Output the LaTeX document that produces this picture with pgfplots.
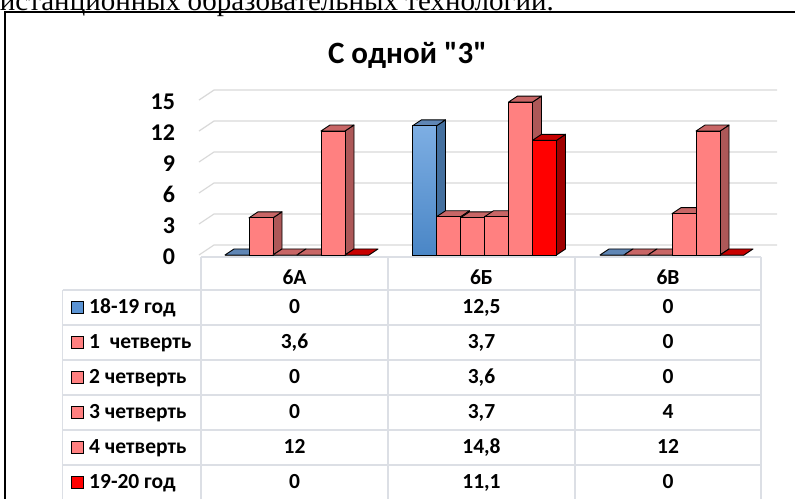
\documentclass[border=0pt]{standalone}
\usepackage{fontspec}
\setmainfont{Carlito}[Ligatures=TeXOff]
\newfontfamily\serifcut{Liberation Serif}
\usepackage{pgfplots}
\pgfplotsset{compat=1.18}
\definecolor{gridc}{HTML}{D9D9D9}
\definecolor{tabc}{HTML}{DCDFE5}
\definecolor{bfrontT}{HTML}{7DAEE3}
\definecolor{bfrontB}{HTML}{4A86C6}
\definecolor{bkey}{HTML}{5B93D3}
\definecolor{btop}{HTML}{5F86B5}
\definecolor{bside}{HTML}{44709F}
\definecolor{pfront}{HTML}{FF8080}
\definecolor{ptop}{HTML}{C86666}
\definecolor{pside}{HTML}{AD5858}
\definecolor{rfront}{HTML}{FF0000}
\definecolor{rtop}{HTML}{C80000}
\definecolor{rside}{HTML}{A00000}
% 3D top and side faces of a bar: category, series index, value, side colour, top colour
\newcommand\threed[5]{%
  \pgfmathsetmacro\xa{#1+(#2-3)*0.128}%
  \pgfmathsetmacro\xb{\xa+0.128}%
  \pgfmathsetmacro\xc{\xb+0.048}%
  \pgfmathsetmacro\xd{\xa+0.048}%
  \pgfmathsetmacro\yt{#3+0.581}%
  \ifdim #3pt>0pt
    \edef\tmp{\noexpand\addplot[forget plot,fill=#4,draw=black,line width=0.9pt,line join=round] coordinates {(\xb,0) (\xc,0.581) (\xc,\yt) (\xb,#3)} -- cycle;}\tmp
  \fi
  \edef\tmp{\noexpand\addplot[forget plot,fill=#5,draw=black,line width=0.9pt,line join=round] coordinates {(\xa,#3) (\xb,#3) (\xc,\yt) (\xd,\yt)} -- cycle;}\tmp
}
\begin{document}
\begin{tikzpicture}[x=1pt,y=1pt]
\useasboundingbox (0,0) rectangle (795,498);
\clip (0,0) rectangle (795,498);
\node[anchor=base west, inner sep=0pt, font=\serifcut\fontsize{29}{29}\selectfont] at (-15,487.5) {дистанционных образовательных технологий.};
\draw[line width=2pt] (5,-5) -- (5,486) -- (800,486);
\node[anchor=base, inner sep=0pt, font=\fontsize{31}{31}\selectfont\bfseries] at (407.5,434.7) {С одной "3"};
\begin{axis}[at={(203.25pt,243pt)}, anchor=south west,
  x=187.5pt, y=10.33pt, xmin=-0.5, xmax=2.5, ymin=0, ymax=15,
  enlargelimits=false, clip=false, axis line style={draw=none},
  major tick length=0pt, xtick=\empty, ytick={0,3,6,9,12,15},
  /pgf/number format/assume math mode=true,
  yticklabel style={font=\fontsize{24}{24}\selectfont\bfseries, inner sep=0pt, anchor=east, xshift=-28pt, yshift=-1.5pt}]
\draw[gridc, line width=1.2pt] (axis cs:-0.5227,0) -- (axis cs:-0.4427,0.968) -- (axis cs:2.56,0.968);
\draw[gridc, line width=1.2pt] (axis cs:-0.5227,3) -- (axis cs:-0.4427,3.968) -- (axis cs:2.56,3.968);
\draw[gridc, line width=1.2pt] (axis cs:-0.5227,6) -- (axis cs:-0.4427,6.968) -- (axis cs:2.56,6.968);
\draw[gridc, line width=1.2pt] (axis cs:-0.5227,9) -- (axis cs:-0.4427,9.968) -- (axis cs:2.56,9.968);
\draw[gridc, line width=1.2pt] (axis cs:-0.5227,12) -- (axis cs:-0.4427,12.968) -- (axis cs:2.56,12.968);
\draw[gridc, line width=1.2pt] (axis cs:-0.5227,15) -- (axis cs:-0.4427,15.968) -- (axis cs:2.56,15.968);
% 18-19 год
\threed{0}{0}{0}{bside}{btop}\threed{1}{0}{12.5}{bside}{btop}\threed{2}{0}{0}{bside}{btop}
\addplot[forget plot, ybar, bar width=24pt, bar shift=-60pt, draw=black, line width=0.9pt, top color=bfrontT, bottom color=bfrontB] coordinates {(0,0) (1,12.5) (2,0)};
% 1 четверть
\threed{0}{1}{3.6}{pside}{ptop}\threed{1}{1}{3.7}{pside}{ptop}\threed{2}{1}{0}{pside}{ptop}
\addplot[forget plot, ybar, bar width=24pt, bar shift=-36pt, draw=black, line width=0.9pt, fill=pfront] coordinates {(0,3.6) (1,3.7) (2,0)};
% 2 четверть
\threed{0}{2}{0}{pside}{ptop}\threed{1}{2}{3.6}{pside}{ptop}\threed{2}{2}{0}{pside}{ptop}
\addplot[forget plot, ybar, bar width=24pt, bar shift=-12pt, draw=black, line width=0.9pt, fill=pfront] coordinates {(0,0) (1,3.6) (2,0)};
% 3 четверть
\threed{0}{3}{0}{pside}{ptop}\threed{1}{3}{3.7}{pside}{ptop}\threed{2}{3}{4}{pside}{ptop}
\addplot[forget plot, ybar, bar width=24pt, bar shift=12pt, draw=black, line width=0.9pt, fill=pfront] coordinates {(0,0) (1,3.7) (2,4)};
% 4 четверть
\threed{0}{4}{12}{pside}{ptop}\threed{1}{4}{14.8}{pside}{ptop}\threed{2}{4}{12}{pside}{ptop}
\addplot[forget plot, ybar, bar width=24pt, bar shift=36pt, draw=black, line width=0.9pt, fill=pfront] coordinates {(0,12) (1,14.8) (2,12)};
% 19-20 год
\threed{0}{5}{0}{rside}{rtop}\threed{1}{5}{11.1}{rside}{rtop}\threed{2}{5}{0}{rside}{rtop}
\addplot[forget plot, ybar, bar width=24pt, bar shift=60pt, draw=black, line width=0.9pt, fill=rfront] coordinates {(0,0) (1,11.1) (2,0)};
\end{axis}
% data table
\begin{scope}[tabc, line width=1.5pt]
\draw (62.7,208) -- (62.7,-5);
\foreach \x in {201,388,575,761} \draw (\x,241) -- (\x,-5);
\draw (201,241) -- (761,241);
\foreach \y in {208,173,138,103,68,33} \draw (62.7,\y) -- (761,\y);
\end{scope}
\begin{scope}[every node/.style={anchor=base, inner sep=0pt, font=\fontsize{21.5}{21.5}\selectfont\bfseries}]
\node at (294.5,213.7) {6А};
\node at (481.5,213.7) {6Б};
\node at (668,213.7) {6В};
\node at (294.5,184.5) {0};   \node at (481.5,184.5) {12,5}; \node at (668,184.5) {0};
\node at (294.5,149.5) {3,6}; \node at (481.5,149.5) {3,7};  \node at (668,149.5) {0};
\node at (294.5,114.5) {0};   \node at (481.5,114.5) {3,6};  \node at (668,114.5) {0};
\node at (294.5,79.5) {0};    \node at (481.5,79.5) {3,7};   \node at (668,79.5) {4};
\node at (294.5,44.5) {12};   \node at (481.5,44.5) {14,8};  \node at (668,44.5) {12};
\node at (294.5,9.5) {0};     \node at (481.5,9.5) {11,1};   \node at (668,9.5) {0};
\node[anchor=base west] at (89,184.5) {18-19 год};
\node[anchor=base west] at (89,149.5) {1\ \ четверть};
\node[anchor=base west] at (89,114.5) {2 четверть};
\node[anchor=base west] at (89,79.5) {3 четверть};
\node[anchor=base west] at (89,44.5) {4 четверть};
\node[anchor=base west] at (89,9.5) {19-20 год};
\end{scope}
\begin{scope}[draw=black, line width=1pt]
\filldraw[fill=bkey] (71,184.5) rectangle ++(12,12);
\filldraw[fill=pfront] (71,149.5) rectangle ++(12,12);
\filldraw[fill=pfront] (71,114.5) rectangle ++(12,12);
\filldraw[fill=pfront] (71,79.5) rectangle ++(12,12);
\filldraw[fill=pfront] (71,44.5) rectangle ++(12,12);
\filldraw[fill=rfront] (71,9.5) rectangle ++(12,12);
\end{scope}
\end{tikzpicture}
\end{document}
